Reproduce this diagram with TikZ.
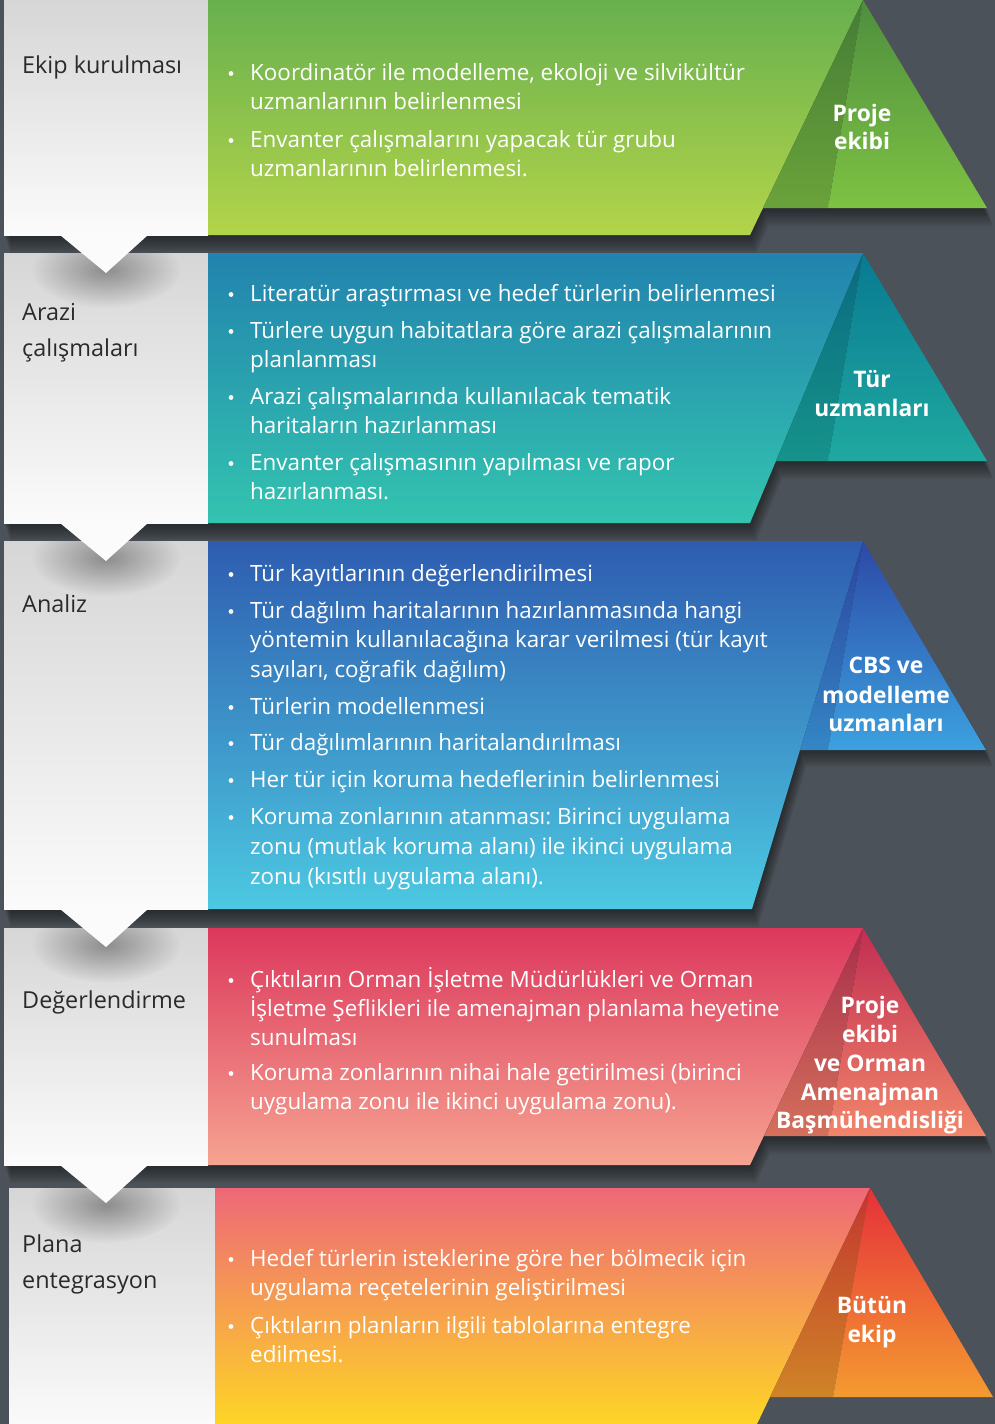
\documentclass[tikz,border=0pt]{standalone}
\usepackage{fontspec}
\setmainfont{Open Sans}
\usetikzlibrary{fadings,calc}
\frenchspacing
\definecolor{bg}{HTML}{4C5259}
\definecolor{panelTop}{HTML}{D6D6D6}
\definecolor{panelBot}{HTML}{FBFBFB}
\definecolor{labelcol}{HTML}{2A2A2A}
\definecolor{aT}{HTML}{67B04E}\definecolor{aB}{HTML}{B3D44A}
\definecolor{aLT}{HTML}{447C37}\definecolor{aLB}{HTML}{6AA33A}
\definecolor{aRT}{HTML}{4F8E3E}\definecolor{aRB}{HTML}{7DC243}
\definecolor{bT}{HTML}{2283AE}\definecolor{bB}{HTML}{33C4AF}
\definecolor{bLT}{HTML}{0A6A80}\definecolor{bLB}{HTML}{16938B}
\definecolor{bRT}{HTML}{087A92}\definecolor{bRB}{HTML}{20A9A0}
\definecolor{cT}{HTML}{2E5CB0}\definecolor{cB}{HTML}{4CC9E1}
\definecolor{cLT}{HTML}{2B449E}\definecolor{cLB}{HTML}{3486C5}
\definecolor{cRT}{HTML}{2C49A6}\definecolor{cRB}{HTML}{3CA1E0}
\definecolor{dT}{HTML}{DC385C}\definecolor{dB}{HTML}{F6A391}
\definecolor{dLT}{HTML}{A82E4A}\definecolor{dLB}{HTML}{D4705C}
\definecolor{dRT}{HTML}{C22D52}\definecolor{dRB}{HTML}{F1856A}
\definecolor{eT}{HTML}{EE6878}\definecolor{eB}{HTML}{FED526}
\definecolor{eLT}{HTML}{C3362F}\definecolor{eLB}{HTML}{CF8427}
\definecolor{eRT}{HTML}{E6303A}\definecolor{eRB}{HTML}{F49B30}
\tikzfading[name=softblob, inner color=transparent!0, outer color=transparent!100]
\tikzset{
  bt/.style={anchor=base west, inner sep=0pt, text=white, font=\fontsize{22.4}{29}\selectfont},
  lbl/.style={anchor=base west, inner sep=0pt, text=labelcol, font=\fontsize{23.4}{36}\selectfont},
  tl/.style={anchor=base, inner sep=0pt, text=white, font=\bfseries\fontsize{22.8}{29}\selectfont},
  panelfill/.style={top color=panelTop, bottom color=panelBot},
}
% shadow: #1 T, #2 B, #3 L1, #4 R, #5 Rb, #6 LB
\newcommand\bandshadow[6]{%
  \foreach \d in {2,4,...,18}{%
    \fill[black, opacity=0.06] ($(0.35*\d,\d)+(#3,#1)$) -- ($(0.35*\d,\d)+(#4,#1)$) -- ($(0.35*\d,\d)+(#4+124,#1+208)$) -- ($(0.35*\d,\d)+(#6,#1+208)$) -- ($(0.35*\d,\d)+(#5,#2)$) -- ($(0.35*\d,\d)+(#3,#2)$) -- cycle;}%
}
\newcommand\bul[1]{\fill[white] (231,#1-6.5) circle (2.4pt);}
\begin{document}
\begin{tikzpicture}[x=1pt,y=-1pt]
\useasboundingbox (0,0) rectangle (995,1424);
\fill[bg] (0,0) rectangle (995,1424);
% shadows
\bandshadow{0}{235}{4}{863}{750}{763}
\bandshadow{253}{523}{4}{863}{750}{776}
\bandshadow{541}{909}{4}{863}{752}{800}
\bandshadow{928}{1165}{4}{863}{750}{764}
% ---------- band 1
\shade[panelfill] (4,0) rectangle (208,235);
\shade[top color=aT, bottom color=aB] (208,0) -- (863,0) -- (750,235) -- (208,235) -- cycle;
\shade[top color=aLT, bottom color=aLB] (863,0) -- (763,208) -- (828,208) -- cycle;
\shade[top color=aRT, bottom color=aRB] (863,0) -- (828,208) -- (987,208) -- cycle;
% ---------- band 2
\shade[panelfill] (4,253) rectangle (208,523);
\shade[top color=bT, bottom color=bB] (208,253) -- (863,253) -- (750,523) -- (208,523) -- cycle;
\shade[top color=bLT, bottom color=bLB] (863,253) -- (776,461) -- (828,461) -- cycle;
\shade[top color=bRT, bottom color=bRB] (863,253) -- (828,461) -- (987,461) -- cycle;
% ---------- band 3
\shade[panelfill] (4,541) rectangle (208,909);
\shade[top color=cT, bottom color=cB] (208,541) -- (863,541) -- (752,909) -- (208,909) -- cycle;
\shade[top color=cLT, bottom color=cLB] (863,541) -- (800,750) -- (828,750) -- cycle;
\shade[top color=cRT, bottom color=cRB] (863,541) -- (828,750) -- (986,750) -- cycle;
% ---------- band 4
\shade[panelfill] (4,928) rectangle (208,1165);
\shade[top color=dT, bottom color=dB] (208,928) -- (863,928) -- (750,1165) -- (208,1165) -- cycle;
\shade[top color=dLT, bottom color=dLB] (863,928) -- (764,1136) -- (828,1136) -- cycle;
\shade[top color=dRT, bottom color=dRB] (863,928) -- (828,1136) -- (986,1136) -- cycle;
% ---------- band 5
\shade[panelfill] (9,1188) rectangle (215,1430);
\shade[top color=eT, bottom color=eB] (215,1188) -- (870,1188) -- (757,1424) -- (215,1424) -- cycle;
\shade[top color=eLT, bottom color=eLB] (870,1188) -- (770,1397) -- (833,1397) -- cycle;
\shade[top color=eRT, bottom color=eRB] (870,1188) -- (833,1397) -- (993,1397) -- cycle;
% notch shadows
\begin{scope}\clip (4,253) rectangle (208,523);
\fill[black, opacity=0.35, path fading=softblob] (106,270) ellipse [x radius=75pt, y radius=38pt];\end{scope}
\begin{scope}\clip (4,541) rectangle (208,909);
\fill[black, opacity=0.35, path fading=softblob] (106,558) ellipse [x radius=75pt, y radius=38pt];\end{scope}
\begin{scope}\clip (4,928) rectangle (208,1165);
\fill[black, opacity=0.35, path fading=softblob] (106,945) ellipse [x radius=75pt, y radius=38pt];\end{scope}
\begin{scope}\clip (9,1188) rectangle (215,1424);
\fill[black, opacity=0.35, path fading=softblob] (106,1205) ellipse [x radius=75pt, y radius=38pt];\end{scope}
% notches
\fill[panelBot] (60,235) -- (148,235) -- (106,273) -- cycle;
\fill[panelBot] (60,523) -- (148,523) -- (106,561) -- cycle;
\fill[panelBot] (60,909) -- (148,909) -- (106,947) -- cycle;
\fill[panelBot] (60,1165) -- (148,1165) -- (106,1203) -- cycle;
% left labels
\node[lbl] (l1) at (22,73) {Ekip kurulması};
\node[lbl] (l2a) at (22,320) {Arazi};
\node[lbl] (l2b) at (22,356) {çalışmaları};
\node[lbl] (l3) at (22,612) {Analiz};
\node[lbl] (l4) at (22,1008) {Değerlendirme};
\node[lbl] (l5a) at (22,1252) {Plana};
\node[lbl] (l5b) at (22,1288) {entegrasyon};
% band 1 text
\bul{80}\node[bt] (t1a) at (250,80) {Koordinatör ile modelleme, ekoloji ve silvikültür};
\node[bt] (t1b) at (250,109) {uzmanlarının belirlenmesi};
\bul{147}\node[bt] (t1c) at (250,147) {Envanter çalışmalarını yapacak tür grubu};
\node[bt] (t1d) at (250,176) {uzmanlarının belirlenmesi.};
% band 2 text
\bul{301}\node[bt] (t2a) at (250,301) {Literatür araştırması ve hedef türlerin belirlenmesi};
\bul{338}\node[bt] (t2b) at (250,338) {Türlere uygun habitatlara göre arazi çalışmalarının};
\node[bt] (t2c) at (250,367) {planlanması};
\bul{404}\node[bt] (t2d) at (250,404) {Arazi çalışmalarında kullanılacak tematik};
\node[bt] (t2e) at (250,433) {haritaların hazırlanması};
\bul{470}\node[bt] (t2f) at (250,470) {Envanter çalışmasının yapılması ve rapor};
\node[bt] (t2g) at (250,499) {hazırlanması.};
% band 3 text
\bul{581}\node[bt] (t3a) at (250,581) {Tür kayıtlarının değerlendirilmesi};
\bul{618}\node[bt] (t3b) at (250,618) {Tür dağılım haritalarının hazırlanmasında hangi};
\node[bt] (t3c) at (250,647) {yöntemin kullanılacağına karar verilmesi (tür kayıt};
\node[bt] (t3d) at (250,677) {sayıları, coğrafik dağılım)};
\bul{714}\node[bt] (t3e) at (250,714) {Türlerin modellenmesi};
\bul{750}\node[bt] (t3f) at (250,750) {Tür dağılımlarının haritalandırılması};
\bul{787}\node[bt] (t3g) at (250,787) {Her tür için koruma hedeflerinin belirlenmesi};
\bul{824}\node[bt] (t3h) at (250,824) {Koruma zonlarının atanması: Birinci uygulama};
\node[bt] (t3i) at (250,854) {zonu (mutlak koruma alanı) ile ikinci uygulama};
\node[bt] (t3j) at (250,884) {zonu (kısıtlı uygulama alanı).};
% band 4 text
\bul{987}\node[bt] (t4a) at (250,987) {Çıktıların Orman İşletme Müdürlükleri ve Orman};
\node[bt] (t4b) at (250,1016) {İşletme Şeflikleri ile amenajman planlama heyetine};
\node[bt] (t4c) at (250,1045) {sunulması};
\bul{1080}\node[bt] (t4d) at (250,1080) {Koruma zonlarının nihai hale getirilmesi (birinci};
\node[bt] (t4e) at (250,1109) {uygulama zonu ile ikinci uygulama zonu).};
% band 5 text
\bul{1266}\node[bt] (t5a) at (250,1266) {Hedef türlerin isteklerine göre her bölmecik için};
\node[bt] (t5b) at (250,1295) {uygulama reçetelerinin geliştirilmesi};
\bul{1333}\node[bt] (t5c) at (250,1333) {Çıktıların planların ilgili tablolarına entegre};
\node[bt] (t5d) at (250,1362) {edilmesi.};
% triangle labels
\node[tl] (p1a) at (862,121) {Proje};
\node[tl] (p1b) at (862,149) {ekibi};
\node[tl] (p2a) at (872,387) {Tür};
\node[tl] (p2b) at (872,416) {uzmanları};
\node[tl] (p3a) at (886,673) {CBS ve};
\node[tl] (p3b) at (886,703) {modelleme};
\node[tl] (p3c) at (886,731) {uzmanları};
\node[tl] (p4a) at (870,1013) {Proje};
\node[tl] (p4b) at (870,1042) {ekibi};
\node[tl] (p4c) at (870,1071) {ve Orman};
\node[tl] (p4d) at (870,1100) {Amenajman};
\node[tl] (p4e) at (870,1128) {Başmühendisliği};
\node[tl] (p5a) at (872,1313) {Bütün};
\node[tl] (p5b) at (872,1342) {ekip};
\end{tikzpicture}
\end{document}
